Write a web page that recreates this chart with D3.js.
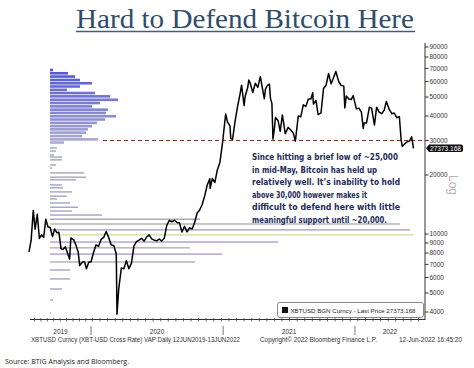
<!DOCTYPE html>
<html>
<head>
<meta charset="utf-8">
<script src="https://cdn.jsdelivr.net/npm/d3@7"></script>
<style>
  body { margin: 0; background: #fff; }
  svg { display: block; }
</style>
</head>
<body>
<div id="chart"></div>
<script>
// XBTUSD price (date, price)
var priceSeries = [
  ["2019-06-12", 8100], ["2019-06-19", 9300], ["2019-06-26", 13200], ["2019-07-02", 10600],
  ["2019-07-09", 12600], ["2019-07-16", 9500], ["2019-07-23", 9900], ["2019-07-30", 9600],
  ["2019-08-06", 11900], ["2019-08-13", 10900], ["2019-08-20", 10800], ["2019-08-28", 9700],
  ["2019-09-04", 10600], ["2019-09-11", 10150], ["2019-09-18", 10200], ["2019-09-25", 8400],
  ["2019-10-02", 8350], ["2019-10-09", 8600], ["2019-10-16", 8000], ["2019-10-23", 7450],
  ["2019-10-27", 9550], ["2019-11-06", 9300], ["2019-11-13", 8750], ["2019-11-20", 8100],
  ["2019-11-25", 6900], ["2019-12-04", 7200], ["2019-12-11", 7200], ["2019-12-17", 6650],
  ["2019-12-25", 7200], ["2020-01-01", 7200], ["2020-01-08", 8050], ["2020-01-15", 8800],
  ["2020-01-22", 8650], ["2020-01-29", 9400], ["2020-02-05", 9600], ["2020-02-12", 10300],
  ["2020-02-19", 9600], ["2020-02-26", 8800], ["2020-03-04", 8750], ["2020-03-11", 7900],
  ["2020-03-13", 3900], ["2020-03-18", 5300], ["2020-03-25", 6700], ["2020-04-01", 6650],
  ["2020-04-08", 7300], ["2020-04-15", 6650], ["2020-04-22", 7100], ["2020-04-29", 8700],
  ["2020-05-06", 9150], ["2020-05-13", 9300], ["2020-05-20", 9500], ["2020-05-27", 9200],
  ["2020-06-03", 9650], ["2020-06-10", 9900], ["2020-06-17", 9450], ["2020-06-24", 9300],
  ["2020-07-01", 9230], ["2020-07-08", 9430], ["2020-07-15", 9200], ["2020-07-22", 9530],
  ["2020-07-29", 11100], ["2020-08-05", 11750], ["2020-08-12", 11550], ["2020-08-19", 11750],
  ["2020-08-26", 11450], ["2020-09-02", 11400], ["2020-09-09", 10240], ["2020-09-16", 10950],
  ["2020-09-23", 10250], ["2020-09-30", 10780], ["2020-10-07", 10600], ["2020-10-14", 11430],
  ["2020-10-21", 12800], ["2020-10-28", 13270], ["2020-11-04", 14150], ["2020-11-11", 15700],
  ["2020-11-18", 17800], ["2020-11-25", 19150], ["2020-11-26", 17100], ["2020-12-02", 19200],
  ["2020-12-09", 18300], ["2020-12-16", 21300], ["2020-12-23", 23200], ["2020-12-30", 28900],
  ["2021-01-08", 41000], ["2021-01-13", 37300], ["2021-01-20", 35500], ["2021-01-22", 30800],
  ["2021-01-27", 30400], ["2021-02-03", 37600], ["2021-02-10", 44800], ["2021-02-17", 52100],
  ["2021-02-21", 57500], ["2021-02-28", 45200], ["2021-03-03", 50500], ["2021-03-10", 55900],
  ["2021-03-13", 61000], ["2021-03-17", 58900], ["2021-03-24", 52700], ["2021-03-31", 58800],
  ["2021-04-07", 56000], ["2021-04-14", 63500], ["2021-04-21", 53800], ["2021-04-25", 49000],
  ["2021-04-28", 54800], ["2021-05-03", 57200], ["2021-05-09", 58200], ["2021-05-12", 49200],
  ["2021-05-16", 46400], ["2021-05-19", 30500], ["2021-05-23", 34700], ["2021-05-26", 39300],
  ["2021-06-02", 38000], ["2021-06-08", 33400], ["2021-06-14", 40500], ["2021-06-22", 32500],
  ["2021-06-30", 35000], ["2021-07-07", 33900], ["2021-07-14", 32800], ["2021-07-20", 29800],
  ["2021-07-28", 40000], ["2021-08-04", 39700], ["2021-08-11", 45600], ["2021-08-18", 44800],
  ["2021-08-25", 48900], ["2021-09-01", 48800], ["2021-09-06", 52600], ["2021-09-08", 46000],
  ["2021-09-15", 48100], ["2021-09-21", 40700], ["2021-09-29", 41500], ["2021-10-06", 55300],
  ["2021-10-13", 57400], ["2021-10-20", 65900], ["2021-10-27", 58400], ["2021-11-03", 62900],
  ["2021-11-09", 67500], ["2021-11-17", 60000], ["2021-11-24", 57200], ["2021-12-01", 57000],
  ["2021-12-04", 44000], ["2021-12-08", 50600], ["2021-12-15", 48900], ["2021-12-22", 48600],
  ["2021-12-27", 50800], ["2022-01-05", 43500], ["2022-01-12", 43900], ["2022-01-19", 41700],
  ["2022-01-24", 34500], ["2022-01-26", 36800], ["2022-02-02", 36900], ["2022-02-10", 44400],
  ["2022-02-16", 43900], ["2022-02-24", 36000], ["2022-03-02", 44400], ["2022-03-09", 41900],
  ["2022-03-16", 41100], ["2022-03-23", 42900], ["2022-03-29", 47500], ["2022-04-06", 43200],
  ["2022-04-13", 41100], ["2022-04-20", 41400], ["2022-04-27", 39200], ["2022-05-04", 39700],
  ["2022-05-09", 30100], ["2022-05-12", 28000], ["2022-05-18", 28700], ["2022-05-25", 29500],
  ["2022-06-01", 29800], ["2022-06-07", 31300], ["2022-06-10", 29000], ["2022-06-12", 27373]
];

// volume at price profile: price level and relative volume
var vapPrice = [68700, 66100, 63600, 61100, 58800, 56600, 54400, 52400, 50400, 48400,
  46600, 44800, 43100, 41500, 39900, 38400, 36900, 35500, 34200, 32900, 31600, 30400, 29300,
  27500, 26500, 25300, 24700, 23900, 22500, 21700, 20500, 19500, 18900, 17800, 17200,
  16400, 15600, 15100, 14400, 13700, 13100, 12500, 11900, 11250, 10500, 9900, 9100,
  8500, 7900, 7200, 6550, 5900, 5240, 4600, 3950];
var vapVolume = [3, 18, 25, 30, 42, 30, 17, 45, 60, 68,
  50, 42, 58, 56, 66, 55, 47, 42, 38, 36, 32, 48, 14,
  7, 6, 4, 12, 12, 6, 2, 34, 36, 26, 12, 13,
  22, 17, 7, 20, 28, 22, 52, 150, 350, 360, 363, 228,
  140, 172, 145, 20, 20, 12, 3, 1];
var highlightLevel = 9900;

var yTicks = [4000, 5000, 6000, 7000, 8000, 9000, 10000, 20000, 30000, 40000, 50000, 60000, 70000, 80000, 90000];
var years = ["2019", "2020", "2021", "2022"];
var lastPrice = 27373.168;
var supportLevel = 30000;

var noteLines = [
  "Since hitting a brief low of ~25,000",
  "in mid-May, Bitcoin has held up",
  "relatively well. It\u2019s inability to hold",
  "above 30,000 however makes it",
  "difficult to defend here with little",
  "meaningful support until ~20,000."
];
var noteWidths = [146, 125, 148, 115, 148, 135];

var svgWidth = 474;
var svgHeight = 368;

var svg = d3.select("#chart")
  .append("svg")
  .attr("width", svgWidth)
  .attr("height", svgHeight)
  .style("background", "#fff");

var parseDate = d3.timeParse("%Y-%m-%d");
var data = priceSeries.map(function (d) { return { date: parseDate(d[0]), price: d[1] }; });

// the source chart squeezes the 2019 part, hence the two-piece time scale
var x = d3.scaleTime()
  .domain([parseDate("2019-06-12"), parseDate("2020-01-01"), parseDate("2022-07-14")])
  .range([29, 91, 425]);

var y = d3.scaleLog()
  .domain([4000, 90000])
  .range([312, 47]);

var vol = d3.scaleLinear()
  .domain([0, 100])
  .range([0, 100]);

// title
svg.append("text")
  .attr("x", 76)
  .attr("y", 28)
  .attr("textLength", 338)
  .attr("lengthAdjust", "spacingAndGlyphs")
  .style("font-family", "'Liberation Serif', serif")
  .style("font-size", "27px")
  .style("fill", "#2f4b6e")
  .text("Hard to Defend Bitcoin Here");

svg.append("line")
  .attr("x1", 76).attr("x2", 415)
  .attr("y1", 31.5).attr("y2", 31.5)
  .attr("stroke", "#3d5d88")
  .attr("stroke-width", 1.6);

// VAP bars
var topColor = d3.interpolateRgb("#5156d4", "#acacce");
var vapGroup = svg.append("g");
vapPrice.forEach(function (p, i) {
  var isBlock = p >= 29000;
  var h, color;
  if (isBlock) {
    var t = (Math.log(vapPrice[0]) - Math.log(p)) / (Math.log(vapPrice[0]) - Math.log(29300));
    color = topColor(t);
    h = 2.6;
  } else {
    h = 1.3;
    if (p === highlightLevel) color = "#c6e2a2";
    else if (vapVolume[i] > 100) color = (i % 2 === 0) ? "#a697cf" : "#a9a9b4";
    else color = "#9d9dbb";
  }
  vapGroup.append("rect")
    .attr("x", 50)
    .attr("y", y(p) - h / 2)
    .attr("width", Math.max(vol(vapVolume[i]), 1))
    .attr("height", h)
    .attr("fill", color);
});

// support line
svg.append("line")
  .attr("x1", 103).attr("x2", 425)
  .attr("y1", y(supportLevel)).attr("y2", y(supportLevel))
  .attr("stroke", "#7d3324")
  .attr("stroke-width", 1.2)
  .attr("stroke-dasharray", "4,3");

// price line
var line = d3.line()
  .x(function (d) { return x(d.date); })
  .y(function (d) { return y(d.price); });

svg.append("path")
  .datum(data)
  .attr("fill", "none")
  .attr("stroke", "#000")
  .attr("stroke-width", 1.5)
  .attr("stroke-linejoin", "round")
  .attr("d", line);

// right axis
var rightAxis = svg.append("g");
rightAxis.append("line")
  .attr("x1", 425).attr("x2", 425)
  .attr("y1", 43).attr("y2", 320)
  .attr("stroke", "#333").attr("stroke-width", 1);
yTicks.forEach(function (v) {
  rightAxis.append("line")
    .attr("x1", 425).attr("x2", 428.5)
    .attr("y1", y(v)).attr("y2", y(v))
    .attr("stroke", "#333");
  rightAxis.append("text")
    .attr("x", 429.5)
    .attr("y", y(v) + 2.3)
    .style("font-family", "'Liberation Sans', sans-serif")
    .style("font-size", "6.5px")
    .style("fill", "#333")
    .text(v);
});

svg.append("text")
  .attr("transform", "translate(449,185) rotate(90)")
  .attr("text-anchor", "middle")
  .style("font-family", "'Liberation Sans', sans-serif")
  .style("font-size", "12px")
  .style("fill", "#b5b5b5")
  .text("Log");

// last price tag
var ly = y(lastPrice);
svg.append("path")
  .attr("d", "M426," + ly + " L429," + (ly - 3.8) + " L461," + (ly - 3.8) + " Q463," + (ly - 3.8) + " 463," + (ly - 1.8) +
    " L463," + (ly + 1.8) + " Q463," + (ly + 3.8) + " 461," + (ly + 3.8) + " L429," + (ly + 3.8) + " Z")
  .attr("fill", "#111");
svg.append("text")
  .attr("x", 430)
  .attr("y", ly + 2.3)
  .attr("textLength", 31)
  .attr("lengthAdjust", "spacingAndGlyphs")
  .style("font-family", "'Liberation Sans', sans-serif")
  .style("font-size", "6.5px")
  .style("fill", "#fff")
  .text(lastPrice.toFixed(3));

// bottom axis
var axisY = 319.5;
svg.append("line")
  .attr("x1", 30).attr("x2", 425)
  .attr("y1", axisY).attr("y2", axisY)
  .attr("stroke", "#333");

var minorTicks = d3.timeWeek.every(3).range(parseDate("2019-06-20"), parseDate("2022-07-14"));
svg.append("g").selectAll("line")
  .data(minorTicks)
  .enter()
  .append("line")
  .attr("x1", function (d) { return x(d); })
  .attr("x2", function (d) { return x(d); })
  .attr("y1", axisY - 1.5).attr("y2", axisY + 2)
  .attr("stroke", "#444")
  .attr("stroke-width", 0.8);

var yearStarts = years.map(function (yr) { return parseDate(yr + "-01-01"); });
yearStarts.slice(1).forEach(function (d) {
  svg.append("line")
    .attr("x1", x(d)).attr("x2", x(d))
    .attr("y1", 326).attr("y2", 335)
    .attr("stroke", "#555")
    .attr("stroke-width", 0.8);
});

years.forEach(function (yr, i) {
  var a = Math.max(x(yearStarts[i]), 30);
  var b = i < years.length - 1 ? x(yearStarts[i + 1]) : 425;
  svg.append("text")
    .attr("x", (a + b) / 2)
    .attr("y", 333.5)
    .attr("text-anchor", "middle")
    .style("font-family", "'Liberation Sans', sans-serif")
    .style("font-size", "6.5px")
    .style("fill", "#333")
    .text(yr);
});

// legend
svg.append("rect")
  .attr("x", 277.5).attr("y", 302.5)
  .attr("width", 146).attr("height", 15)
  .attr("rx", 2.5)
  .attr("fill", "#fff")
  .attr("stroke", "#888");
svg.append("rect")
  .attr("x", 282).attr("y", 307)
  .attr("width", 6).attr("height", 6)
  .attr("fill", "#111");
svg.append("text")
  .attr("x", 290.5).attr("y", 312.5)
  .attr("textLength", 125)
  .attr("lengthAdjust", "spacingAndGlyphs")
  .style("font-family", "'Liberation Sans', sans-serif")
  .style("font-size", "6.2px")
  .style("fill", "#222")
  .text("XBTUSD BGN Curncy - Last Price " + lastPrice.toFixed(3));

// footer
var footer = [
  { x: 31, w: 209, t: "XBTUSD Curncy (XBT-USD Cross Rate) VAP  Daily 12JUN2019-13JUN2022" },
  { x: 260, w: 117, t: "Copyright\u00a9 2022 Bloomberg Finance L.P." },
  { x: 399, w: 63, t: "12-Jun-2022 16:45:20" }
];
footer.forEach(function (f) {
  svg.append("text")
    .attr("x", f.x).attr("y", 341.5)
    .attr("textLength", f.w)
    .attr("lengthAdjust", "spacingAndGlyphs")
    .style("font-family", "'Liberation Sans', sans-serif")
    .style("font-size", "6.3px")
    .style("fill", "#333")
    .text(f.t);
});

// annotation
noteLines.forEach(function (t, i) {
  svg.append("text")
    .attr("x", 252)
    .attr("y", 160 + i * 12.6)
    .attr("textLength", noteWidths[i])
    .attr("lengthAdjust", "spacingAndGlyphs")
    .style("font-family", "'DejaVu Sans', sans-serif")
    .style("font-weight", "bold")
    .style("font-size", "8.5px")
    .style("fill", "#1d2b58")
    .text(t);
});

// source
svg.append("text")
  .attr("x", 5).attr("y", 364)
  .attr("textLength", 124)
  .attr("lengthAdjust", "spacingAndGlyphs")
  .style("font-family", "'Open Sans', sans-serif")
  .style("font-size", "8px")
  .style("fill", "#222")
  .text("Source: BTIG Analysis and Bloomberg.");
</script>
</body>
</html>
